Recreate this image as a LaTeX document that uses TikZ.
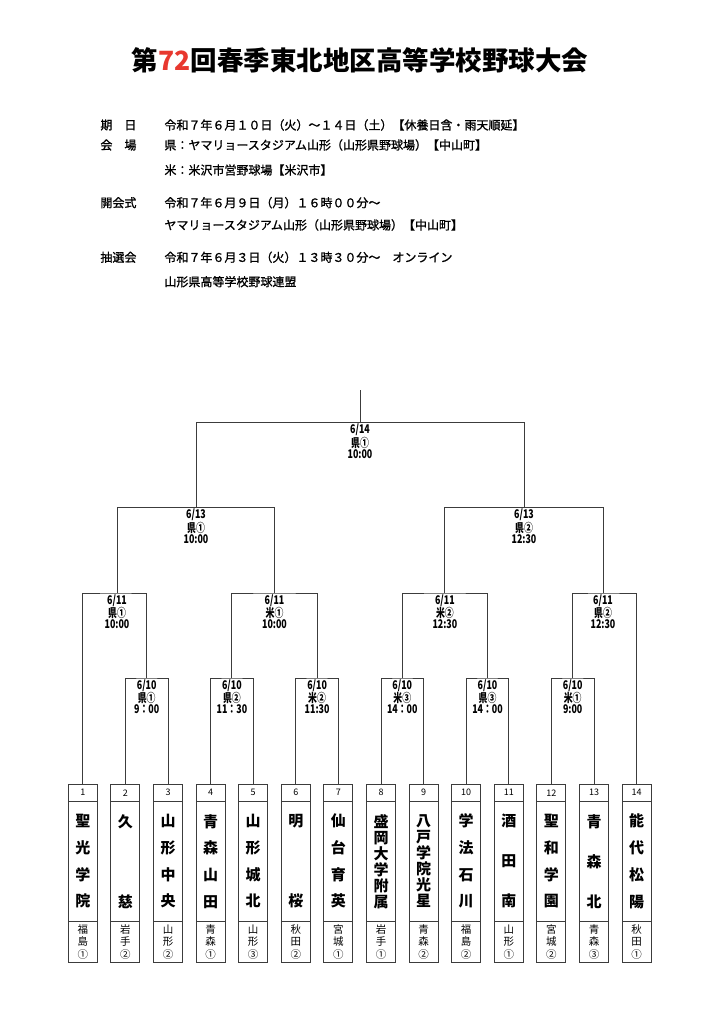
\documentclass[tikz,border=0pt]{standalone}
\usepackage{fontspec}
\setmainfont{Noto Sans CJK JP}
\newfontfamily\slotfont{Noto Sans CJK JP}[FakeStretch=0.74]
\newfontfamily\infofont{Noto Sans CJK JP}[FakeBold=1.2]
\usepackage{tikz}
\usetikzlibrary{positioning}
\definecolor{TitleRed}{HTML}{E8382F}
\definecolor{LineGray}{HTML}{3C3C3C}

\begin{document}
\begin{tikzpicture}[x=1pt, y=-1pt,
  numbox/.style={rectangle, draw=LineGray, line width=1pt, outer sep=0pt,
    minimum width=29pt, minimum height=17.5pt, inner sep=0pt, anchor=north,
    font=\fontsize{9}{9}\selectfont},
  %
  namebox/.style={rectangle, draw=LineGray, line width=1pt, outer sep=0pt,
    minimum width=29pt, minimum height=119.5pt, inner sep=0pt, align=center,
    font=\bfseries\fontsize{15}{#1}\selectfont},
  %
  prefbox/.style={rectangle, draw=LineGray, line width=1pt, outer sep=0pt,
    minimum width=29pt, minimum height=41.7pt, inner sep=0pt, align=center,
    font=\fontsize{10.5}{12.7}\selectfont},
  %
  slot/.style={inner sep=0pt, align=center,
    font=\slotfont\bfseries\fontsize{12}{10.9}\selectfont},
  %
  info/.style={anchor=west, inner sep=0pt, font=\infofont\fontsize{12}{12}\selectfont}
  ]

  \useasboundingbox (0,0) rectangle (721,1024);
  \tikzset{every path/.style={line width=.9pt, draw=LineGray}}

  % title and notes
  \node [font=\bfseries\fontsize{26.5}{26.5}\selectfont] (title) at (360,60)
    {第{\color{TitleRed}72}回春季東北地区高等学校野球大会};

  \node [info] (kijitsu) at (100,125) {期　日};
  \node [info] (kijitsuT) at (164,125) {令和７年６月１０日（火）～１４日（土）【休養日含・雨天順延】};
  \node [info] (kaijo) at (100,145) {会　場};
  \node [info] (kaijoA) at (164,145) {県：ヤマリョースタジアム山形（山形県野球場）【中山町】};
  \node [info] (kaijoB) at (164,170) {米：米沢市営野球場【米沢市】};
  \node [info] (kaikai) at (100,202.7) {開会式};
  \node [info] (kaikaiA) at (164,202.7) {令和７年６月９日（月）１６時００分～};
  \node [info] (kaikaiB) at (164,225) {ヤマリョースタジアム山形（山形県野球場）【中山町】};
  \node [info] (chusen) at (100,257.3) {抽選会};
  \node [info] (chusenA) at (164,257.3) {令和７年６月３日（火）１３時３０分～　オンライン};
  \node [info] (chusenB) at (164,281.7) {山形県高等学校野球連盟};

  % teams
  %%%%%%%%%%%%%%%%%%%%%%%%%%%%%%%
  \node [numbox] (no1) at (82.8,784) {1};
  \node [namebox=26.67, below=0pt of no1] (nm1) {聖\\光\\学\\院};
  \node [prefbox, below=0pt of nm1] (pf1) {福\\島\\①};
  %%%%%%%%%%%%%%%%%%%%%%%%%%%%%%%
  \node [numbox] (no2) at (125.4,784) {2};
  \node [namebox=80, below=0pt of no2] (nm2) {久\\慈};
  \node [prefbox, below=0pt of nm2] (pf2) {岩\\手\\②};
  %%%%%%%%%%%%%%%%%%%%%%%%%%%%%%%
  \node [numbox] (no3) at (168.0,784) {3};
  \node [namebox=26.67, below=0pt of no3] (nm3) {山\\形\\中\\央};
  \node [prefbox, below=0pt of nm3] (pf3) {山\\形\\②};
  %%%%%%%%%%%%%%%%%%%%%%%%%%%%%%%
  \node [numbox] (no4) at (210.6,784) {4};
  \node [namebox=26.67, below=0pt of no4] (nm4) {青\\森\\山\\田};
  \node [prefbox, below=0pt of nm4] (pf4) {青\\森\\①};
  %%%%%%%%%%%%%%%%%%%%%%%%%%%%%%%
  \node [numbox] (no5) at (253.2,784) {5};
  \node [namebox=26.67, below=0pt of no5] (nm5) {山\\形\\城\\北};
  \node [prefbox, below=0pt of nm5] (pf5) {山\\形\\③};
  %%%%%%%%%%%%%%%%%%%%%%%%%%%%%%%
  \node [numbox] (no6) at (295.8,784) {6};
  \node [namebox=80, below=0pt of no6] (nm6) {明\\桜};
  \node [prefbox, below=0pt of nm6] (pf6) {秋\\田\\②};
  %%%%%%%%%%%%%%%%%%%%%%%%%%%%%%%
  \node [numbox] (no7) at (338.4,784) {7};
  \node [namebox=26.67, below=0pt of no7] (nm7) {仙\\台\\育\\英};
  \node [prefbox, below=0pt of nm7] (pf7) {宮\\城\\①};
  %%%%%%%%%%%%%%%%%%%%%%%%%%%%%%%
  \node [numbox] (no8) at (381.0,784) {8};
  \node [namebox=16, below=0pt of no8] (nm8) {盛\\岡\\大\\学\\附\\属};
  \node [prefbox, below=0pt of nm8] (pf8) {岩\\手\\①};
  %%%%%%%%%%%%%%%%%%%%%%%%%%%%%%%
  \node [numbox] (no9) at (423.6,784) {9};
  \node [namebox=16, below=0pt of no9] (nm9) {八\\戸\\学\\院\\光\\星};
  \node [prefbox, below=0pt of nm9] (pf9) {青\\森\\②};
  %%%%%%%%%%%%%%%%%%%%%%%%%%%%%%%
  \node [numbox] (no10) at (466.2,784) {10};
  \node [namebox=26.67, below=0pt of no10] (nm10) {学\\法\\石\\川};
  \node [prefbox, below=0pt of nm10] (pf10) {福\\島\\②};
  %%%%%%%%%%%%%%%%%%%%%%%%%%%%%%%
  \node [numbox] (no11) at (508.8,784) {11};
  \node [namebox=40, below=0pt of no11] (nm11) {酒\\田\\南};
  \node [prefbox, below=0pt of nm11] (pf11) {山\\形\\①};
  %%%%%%%%%%%%%%%%%%%%%%%%%%%%%%%
  \node [numbox] (no12) at (551.4,784) {12};
  \node [namebox=26.67, below=0pt of no12] (nm12) {聖\\和\\学\\園};
  \node [prefbox, below=0pt of nm12] (pf12) {宮\\城\\②};
  %%%%%%%%%%%%%%%%%%%%%%%%%%%%%%%
  \node [numbox] (no13) at (594.0,784) {13};
  \node [namebox=40, below=0pt of no13] (nm13) {青\\森\\北};
  \node [prefbox, below=0pt of nm13] (pf13) {青\\森\\③};
  %%%%%%%%%%%%%%%%%%%%%%%%%%%%%%%
  \node [numbox] (no14) at (636.6,784) {14};
  \node [namebox=26.67, below=0pt of no14] (nm14) {能\\代\\松\\陽};
  \node [prefbox, below=0pt of nm14] (pf14) {秋\\田\\①};

  % bracket tops
  \coordinate (m23) at (146.7,678);
  \coordinate (m45) at (231.9,678);
  \coordinate (m67) at (317.1,678);
  \coordinate (m89) at (402.3,678);
  \coordinate (m1011) at (487.5,678);
  \coordinate (m1213) at (572.7,678);
  \coordinate (q1) at (117,593);
  \coordinate (q2) at (274.5,593);
  \coordinate (q3) at (444.9,593);
  \coordinate (q4) at (603,593);
  \coordinate (s1) at (196,507.5);
  \coordinate (s2) at (524,507.5);
  \coordinate (fin) at (360,422.3);
  \coordinate (champ) at (360,390);

  \begin{scope}
    \draw (no2.north) |- (m23) -| (no3.north);
    \draw (no4.north) |- (m45) -| (no5.north);
    \draw (no6.north) |- (m67) -| (no7.north);
    \draw (no8.north) |- (m89) -| (no9.north);
    \draw (no10.north) |- (m1011) -| (no11.north);
    \draw (no12.north) |- (m1213) -| (no13.north);
    \draw (no1.north) |- (q1) -| (m23);
    \draw (m45) |- (q2) -| (m67);
    \draw (m89) |- (q3) -| (m1011);
    \draw (m1213) |- (q4) -| (no14.north);
    \draw (q1) |- (s1) -| (q2);
    \draw (q3) |- (s2) -| (q4);
    \draw (s1) |- (fin) -| (s2);
    \draw (fin) -- (champ);
  \end{scope}

  % match dates, grounds, times
  \node [slot, below=1.2pt of m23] (l23) {6/10\\県①\\9：00};
  \node [slot, below=1.2pt of m45] (l45) {6/10\\県②\\11：30};
  \node [slot, below=1.2pt of m67] (l67) {6/10\\米②\\11:30};
  \node [slot, below=1.2pt of m89] (l89) {6/10\\米③\\14：00};
  \node [slot, below=1.2pt of m1011] (l1011) {6/10\\県③\\14：00};
  \node [slot, below=1.2pt of m1213] (l1213) {6/10\\米①\\9:00};
  \node [slot, below=1.2pt of q1] (lq1) {6/11\\県①\\10:00};
  \node [slot, below=1.2pt of q2] (lq2) {6/11\\米①\\10:00};
  \node [slot, below=1.2pt of q3] (lq3) {6/11\\米②\\12:30};
  \node [slot, below=1.2pt of q4] (lq4) {6/11\\県②\\12:30};
  \node [slot, below=1.2pt of s1] (ls1) {6/13\\県①\\10:00};
  \node [slot, below=1.2pt of s2] (ls2) {6/13\\県②\\12:30};
  \node [slot, below=1.2pt of fin] (lfin) {6/14\\県①\\10:00};

\end{tikzpicture}
\end{document}
